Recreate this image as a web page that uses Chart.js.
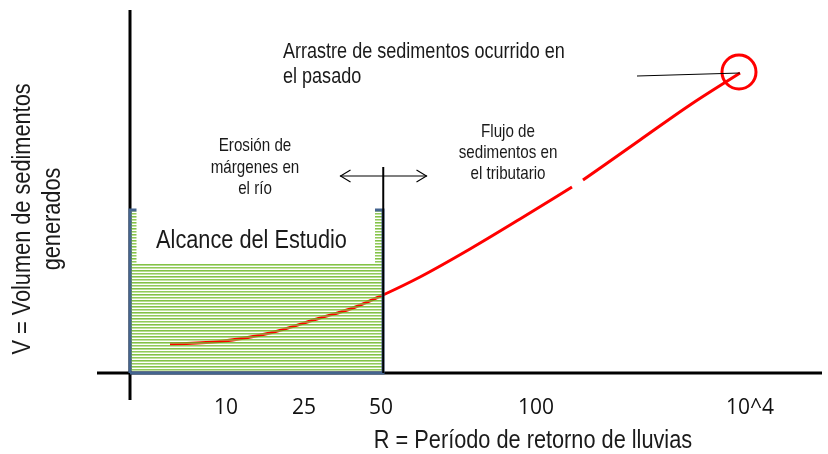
<!DOCTYPE html>
<html>
<head>
<meta charset="utf-8">
<style>
  html, body { margin: 0; padding: 0; background: #fff; }
  #wrap { width: 828px; height: 454px; }
</style>
</head>
<body>
<div id="wrap"><canvas id="grafico" width="828" height="454"></canvas></div>
<script src="https://cdn.jsdelivr.net/npm/chart.js"></script>
<script>
// eje R (posición en el dibujo) y sus etiquetas
const tickPos = [3.84, 6.96, 10.04, 16.24, 24.8];
const tickLabels = ['10', '25', '50', '100', '10^4'];

// curva de volumen (null = corte blanco)
const curvaX = [1.6, 3.6, 5.6, 7.6, 8.92, 10.12, 11.6, 13.6, 15.6, 17.68, 17.9, 18.12, 20.4, 22.4, 24.4];
const curvaY = [1.16, 1.26, 1.6, 2.2, 2.6, 3.12, 3.84, 4.96, 6.16, 7.44, null, 7.72, 9.32, 10.72, 12.0];

// alcance del estudio (rectángulo rayado) y recuadro del título
const alcanceX = [0, 0, 10.12, 10.12, 0];
const alcanceY = [0, 6.52, 6.52, 0, 0];
const tituloX = [0.26, 0.26, 9.8, 9.8];
const tituloY = [4.4, 6.68, 6.68, 4.4];

// línea límite, flecha doble, círculo y línea de llamada
const limiteX = [10.13, 10.13];
const limiteY = [0, 8.24];
const flechaX = [8.4, 11.88];
const flechaY = [7.88, 7.88];
const circuloX = [24.36];
const circuloY = [12.04];
const llamadaX = [20.28, 24.4];
const llamadaY = [11.88, 12.0];

// ejes dibujados (se cruzan en 0,0 y sobresalen)
const xMin = -1.32, xMax = 27.68, yMin = -0.88, yMax = 14.52;
const ejeVBajo = -1.08;

function pts(xs, ys) { return xs.map((x, i) => ({ x: x, y: ys[i] })); }

function rayas() {
  const c = document.createElement('canvas');
  c.width = 4; c.height = 6;
  const g = c.getContext('2d');
  const filas = ['rgba(104,180,30,0.82)', 'rgba(145,202,88,0.65)', null, 'rgba(115,186,45,0.78)', 'rgba(155,208,100,0.6)', null];
  filas.forEach((col, i) => { if (col) { g.fillStyle = col; g.fillRect(0, i, 4, 1); } });
  return g.createPattern(c, 'repeat');
}

function punta() {
  const c = document.createElement('canvas');
  c.width = 26; c.height = 14;
  const g = c.getContext('2d');
  g.strokeStyle = '#000'; g.lineWidth = 1.1;
  g.beginPath(); g.moveTo(2.5, 1); g.lineTo(12.5, 7); g.lineTo(2.5, 13); g.stroke();
  return c;
}

// Arial Narrow ~ Liberation Sans comprimida
const fuente = "'Liberation Sans', Arial, sans-serif";
const estrecho = 0.82;

function texto(ctx, s, x, y, size, align) {
  ctx.save();
  ctx.translate(x, y);
  ctx.scale(estrecho, 1);
  ctx.font = size + 'px ' + fuente;
  ctx.textAlign = align;
  ctx.fillText(s, 0, 0);
  ctx.restore();
}

const textos = [
  { lineas: ['Arrastre de sedimentos ocurrido en', 'el pasado'], x: 6.12, y: 12.86, align: 'left', size: 22, sep: 25 },
  { lineas: ['Erosión de', 'márgenes en', 'el río'], x: 5.0, y: 9.08, align: 'center', size: 18.5, sep: 21.5 },
  { lineas: ['Flujo de', 'sedimentos en', 'el tributario'], x: 15.12, y: 9.64, align: 'center', size: 18.5, sep: 21 },
  { lineas: ['Alcance del Estudio'], x: 4.86, y: 5.3, align: 'center', size: 26.5, sep: 0 }
];

const textoPlugin = {
  id: 'textos',
  afterDatasetsDraw(chart) {
    const ctx = chart.ctx, xs = chart.scales.x, ys = chart.scales.y, area = chart.chartArea;
    ctx.save();
    ctx.fillStyle = '#1a1a1a';
    ctx.textBaseline = 'middle';
    textos.forEach(t => {
      t.lineas.forEach((l, i) => texto(ctx, l, xs.getPixelForValue(t.x), ys.getPixelForValue(t.y) + i * t.sep, t.size, t.align));
    });
    // títulos de ejes
    texto(ctx, 'R = Período de retorno de lluvias', 533, area.bottom + 46, 26.5, 'center');
    ctx.translate(area.left - 59, 219);
    ctx.rotate(-Math.PI / 2);
    texto(ctx, 'V = Volumen de sedimentos', 0, -15, 26.5, 'center');
    texto(ctx, 'generados', 0, 15, 26.5, 'center');
    ctx.restore();
  }
};

const ctx = document.getElementById('grafico').getContext('2d');
new Chart(ctx, {
  type: 'line',
  data: {
    datasets: [
      { data: pts(flechaX, flechaY), borderColor: '#000', borderWidth: 1.1, pointRadius: 6, pointStyle: punta(), pointRotation: [180, 0], order: 0, clip: false },
      { data: pts(llamadaX, llamadaY), borderColor: '#000', borderWidth: 1, pointRadius: 0, order: 0 },
      { data: pts(circuloX, circuloY), showLine: false, pointRadius: 17, pointBorderWidth: 3, pointBorderColor: '#ff0000', pointBackgroundColor: 'rgba(0,0,0,0)', order: 0, clip: false },
      { data: pts(limiteX, limiteY), borderColor: '#000', borderWidth: 2, pointRadius: 0, order: 1 },
      { data: pts(tituloX, tituloY), fill: 'shape', backgroundColor: '#fff', borderWidth: 0, pointRadius: 0, order: 2 },
      { data: pts(alcanceX, alcanceY), fill: 'shape', backgroundColor: rayas(), borderColor: '#44648f', borderWidth: 3, borderJoinStyle: 'miter', pointRadius: 0, order: 3 },
      { data: pts(curvaX, curvaY), borderColor: '#ff0000', borderWidth: 3, pointRadius: 0, cubicInterpolationMode: 'monotone', spanGaps: false, order: 4 },
      { data: pts([xMin, xMax], [0, 0]), borderColor: '#000', borderWidth: 3, pointRadius: 0, order: 5 },
      { data: pts([0, 0], [ejeVBajo, yMax]), borderColor: '#000', borderWidth: 3, pointRadius: 0, order: 5, clip: false }
    ]
  },
  options: {
    responsive: false,
    animation: false,
    layout: { autoPadding: false, padding: { left: 97, right: 6, top: 10, bottom: 33.8 } },
    plugins: { legend: { display: false }, tooltip: { enabled: false } },
    scales: {
      x: {
        type: 'linear', min: xMin, max: xMax,
        grid: { display: false, drawTicks: false },
        border: { display: false },
        afterBuildTicks: s => { s.ticks = tickPos.map(v => ({ value: v })); },
        ticks: {
          autoSkip: false, maxRotation: 0, padding: 0,
          color: '#111',
          font: { family: "'Open Sans', sans-serif", size: 21 },
          callback: (v, i) => tickLabels[i]
        }
      },
      y: { type: 'linear', min: yMin, max: yMax, display: false }
    }
  },
  plugins: [textoPlugin]
});
</script>
</body>
</html>
